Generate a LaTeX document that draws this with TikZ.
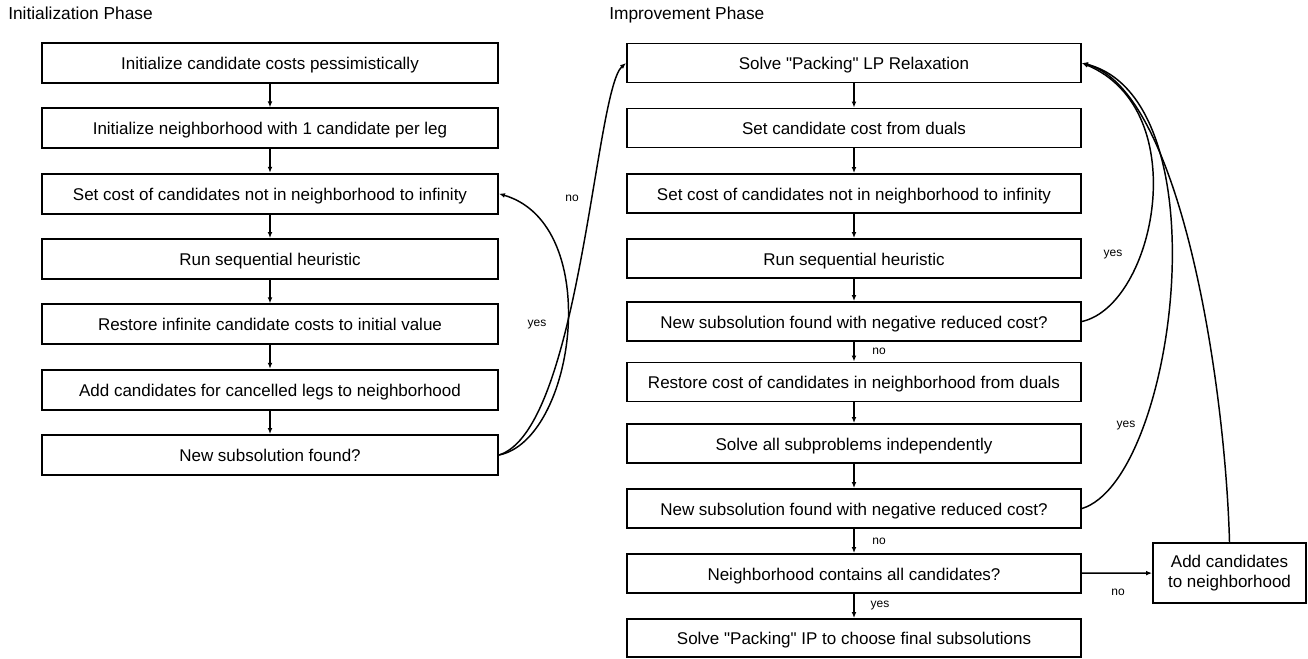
\documentclass[tikz,border=0pt]{standalone}
\usepackage{fontspec}
% keep plain ASCII quotes as straight quotes
\setmainfont[Ligatures=TeXOff]{Liberation Sans}
\usetikzlibrary{arrows.meta}
\begin{document}
\begin{tikzpicture}[x=0.75pt,y=-0.75pt,
  box/.style={draw,line width=1.4pt,inner sep=0pt,font=\fontsize{12.75}{15}\selectfont},
  lbox/.style={box,minimum width=342pt,minimum height=30pt,text height=10.5pt,text depth=0.75pt},
  rbox/.style={box,minimum width=340.5pt,minimum height=29.25pt,text height=10.5pt,text depth=0.75pt},
  flow/.style={line width=1.1pt,-{Latex[length=4.5pt,width=3.6pt]}},
  lab/.style={font=\fontsize{9}{10}\selectfont,inner sep=0pt},
  phase/.style={font=\fontsize{13}{15}\selectfont,anchor=base west,inner sep=0pt}]
\useasboundingbox (0,0) rectangle (1308,658);

% phase headings
\node[phase] (t1) at (8,19) {Initialization Phase};
\node[phase] (t2) at (609,19) {Improvement Phase};

% initialization column
\node[lbox] (l1) at (270,63)    {Initialize candidate costs pessimistically};
\node[lbox] (l2) at (270,128.3) {Initialize neighborhood with 1 candidate per leg};
\node[lbox] (l3) at (270,193.7) {Set cost of candidates not in neighborhood to infinity};
\node[lbox] (l4) at (270,259)   {Run sequential heuristic};
\node[lbox] (l5) at (270,324.3) {Restore infinite candidate costs to initial value};
\node[lbox] (l6) at (270,389.7) {Add candidates for cancelled legs to neighborhood};
\node[lbox] (l7) at (270,455)   {New subsolution found?};

% improvement column
\node[rbox] (r1)  at (854,63)    {Solve "Packing" LP Relaxation};
\node[rbox] (r2)  at (854,128)   {Set candidate cost from duals};
\node[rbox] (r3)  at (854,193.5) {Set cost of candidates not in neighborhood to infinity};
\node[rbox] (r4)  at (854,258.5) {Run sequential heuristic};
\node[rbox] (r5)  at (854,321.5) {New subsolution found with negative reduced cost?};
\node[rbox] (r6)  at (854,382)   {Restore cost of candidates in neighborhood from duals};
\node[rbox] (r7)  at (854,443.5) {Solve all subproblems independently};
\node[rbox] (r8)  at (854,508.5) {New subsolution found with negative reduced cost?};
\node[rbox] (r9)  at (854,573.5) {Neighborhood contains all candidates?};
\node[rbox,minimum height=28.5pt] (r10) at (854,638) {Solve "Packing" IP to choose final subsolutions};

\node[box,minimum width=114.75pt,minimum height=45pt,align=center] (add) at (1229.5,573)
  {Add candidates\\to neighborhood};

% straight connectors
\foreach \a/\b in {l1/l2,l2/l3,l3/l4,l4/l5,l5/l6,l6/l7,
                   r1/r2,r2/r3,r3/r4,r4/r5,r5/r6,r6/r7,r7/r8,r8/r9,r9/r10}
  \draw[flow] (\a) -- (\b);
\draw[flow] (r9) -- (add);

% loops
\draw[flow] (l7.east) .. controls (575,440) and (605,225) .. (l3.east);
\draw[flow] (l7.east) .. controls (580,430) and (595,90) .. (r1.west);
\draw[flow] (r5.east) .. controls (1155,305) and (1195,110) .. (r1.east);
\draw[flow] (r8.east) .. controls (1175,480) and (1225,100) .. (r1.east);
\draw[flow] (add.north) .. controls (1225,380) and (1180,90) .. (r1.east);

% branch labels
\node[lab] (ly)  at (537,325)  {yes};
\node[lab] (ln)  at (572,198)  {no};
\node[lab] (ry1) at (1113,255) {yes};
\node[lab] (ry2) at (1126,426) {yes};
\node[lab] (rn3) at (1118,592) {no};
\node[lab] (rn1) at (879,351)  {no};
\node[lab] (rn2) at (879,541)  {no};
\node[lab] (ry3) at (880,606)  {yes};
\end{tikzpicture}
\end{document}
